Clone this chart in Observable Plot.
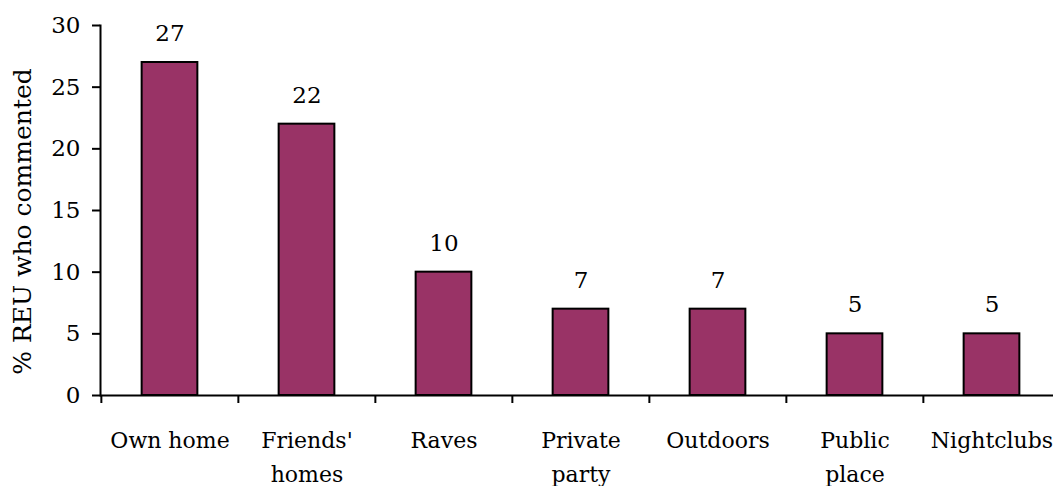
<!DOCTYPE html>
<html>
<head>
<meta charset="utf-8">
<script src="https://cdn.jsdelivr.net/npm/d3@7"></script>
<script src="https://cdn.jsdelivr.net/npm/@observablehq/plot@0.6"></script>
<style>
  html, body { margin: 0; padding: 0; background: white; }
</style>
</head>
<body>
<div id="chart"></div>
<script>
const categories = ["Own home", "Friends' homes", "Raves", "Private party", "Outdoors", "Public place", "Nightclubs"];
const tickLabels = ["Own home", "Friends'\nhomes", "Raves", "Private\nparty", "Outdoors", "Public\nplace", "Nightclubs"];
const values = [27, 22, 10, 7, 7, 5, 5];
const yTicks = [0, 5, 10, 15, 20, 25, 30];
const yLabel = "% REU who commented";

const data = categories.map((c, i) => ({cat: c, value: values[i]}));
const labelOf = new Map(categories.map((c, i) => [c, tickLabels[i]]));

const width = 1053, height = 486;
const marginLeft = 100, marginRight = -8;
const step = (width - marginRight - marginLeft) / categories.length;
const barWidth = 56;
const inset = (step - barWidth) / 2;
const fs = 23;

const chart = Plot.plot({
  width, height,
  marginLeft, marginRight, marginTop: 25, marginBottom: 91,
  style: {fontFamily: "'DejaVu Serif', serif", fontSize: fs + "px", color: "black", background: "white", overflow: "visible"},
  x: {domain: categories, padding: 0, label: null},
  y: {domain: [0, 30], label: null},
  marks: [
    Plot.barY(data, {x: "cat", y: "value", fill: "#993366", stroke: "black", strokeWidth: 2, insetLeft: inset, insetRight: inset}),
    Plot.ruleY([0], {stroke: "black", strokeWidth: 2}),
    Plot.frame({anchor: "left", stroke: "black", strokeWidth: 2}),
    Plot.axisY({ticks: yTicks, tickSize: 8, tickPadding: 12, strokeWidth: 2, label: null, fontSize: fs, fill: "black"}),
    Plot.axisX({tickSize: 0, tickPadding: 28, tickFormat: d => labelOf.get(d), lineHeight: 1.55, label: null, fontSize: 22, fill: "black"}),
    Plot.ruleX(categories, {x: d => d, y1: 0, y2: 0, insetBottom: -8, dx: -step / 2, stroke: "black", strokeWidth: 2}),
    Plot.text(data, {x: "cat", y: "value", text: d => String(d.value), dy: -29, fontSize: fs, fill: "black"}),
    Plot.text([yLabel], {frameAnchor: "left", textAnchor: "middle", rotate: -90, dx: -78, dy: 11, fontSize: 25, fill: "black"})
  ]
});
document.getElementById("chart").appendChild(chart);
</script>
</body>
</html>
